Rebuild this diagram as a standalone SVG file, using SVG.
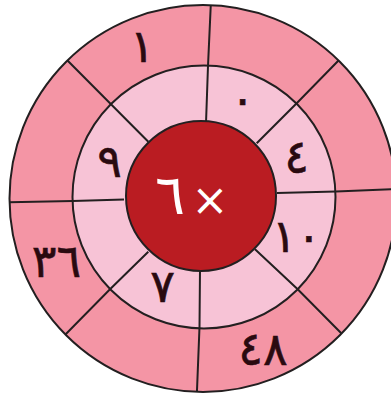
<svg xmlns="http://www.w3.org/2000/svg" width="391" height="399" viewBox="0 0 391 399">
<style>
.ln{stroke:#231F20;stroke-width:2;fill:none}
.outer{fill:#F495A5;stroke:#231F20;stroke-width:2}
.mid{fill:#F7C3D6;stroke:#231F20;stroke-width:2}
.core{fill:#BA1C22;stroke:#231F20;stroke-width:2}
.num{font-family:"DejaVu Sans",sans-serif;font-size:46px;fill:#2A0A10;text-anchor:middle;stroke:#2A0A10;stroke-width:0.6}
.cnum{font-family:"DejaVu Sans",sans-serif;fill:#FFFFFF;text-anchor:middle}
</style>
<defs>
<clipPath id="oc"><circle cx="203" cy="198.5" r="193.5"/></clipPath>
</defs>
<g id="outer-ring"><circle class="outer" cx="203" cy="198.5" r="193.5"/></g>
<g id="inner-ring"><circle class="mid" cx="204" cy="197" r="131.5"/></g>
<g id="connectors" clip-path="url(#oc)">
<polyline class="ln" points="206,123 208,66 211,0"/>
<polyline class="ln" points="256.7,143.3 296.7,103.3 340,59"/>
<polyline class="ln" points="277,193 336,191.5 395,189"/>
<polyline class="ln" points="255,249.3 297.7,289.3 345,337"/>
<polyline class="ln" points="200,269 199.5,327 196.7,398"/>
<polyline class="ln" points="148.3,251.7 110,289.3 61,339"/>
<polyline class="ln" points="124,199.5 72.7,201 4,202.4"/>
<polyline class="ln" points="148.3,141.7 111,104.3 64,57"/>
</g>
<g id="center"><circle class="core" cx="201" cy="196" r="75"/>
<text class="cnum"><tspan x="170" y="214" font-size="56">٦</tspan><tspan x="210" y="215" font-size="44">×</tspan></text></g>
<g id="labels">
<text class="num" x="142" y="62">١</text>
<text class="num" x="242.5" y="115">٠</text>
<text class="num" x="296.5" y="173">٤</text>
<text class="num" x="109.5" y="177">٩</text>
<text class="num" x="56.5" y="277">٣٦</text>
<text class="num" x="162.5" y="302">٧</text>
<text class="num" x="263" y="365">٤٨</text>
<text class="num" x="296.5" y="252">١٠</text>
</g>
</svg>
